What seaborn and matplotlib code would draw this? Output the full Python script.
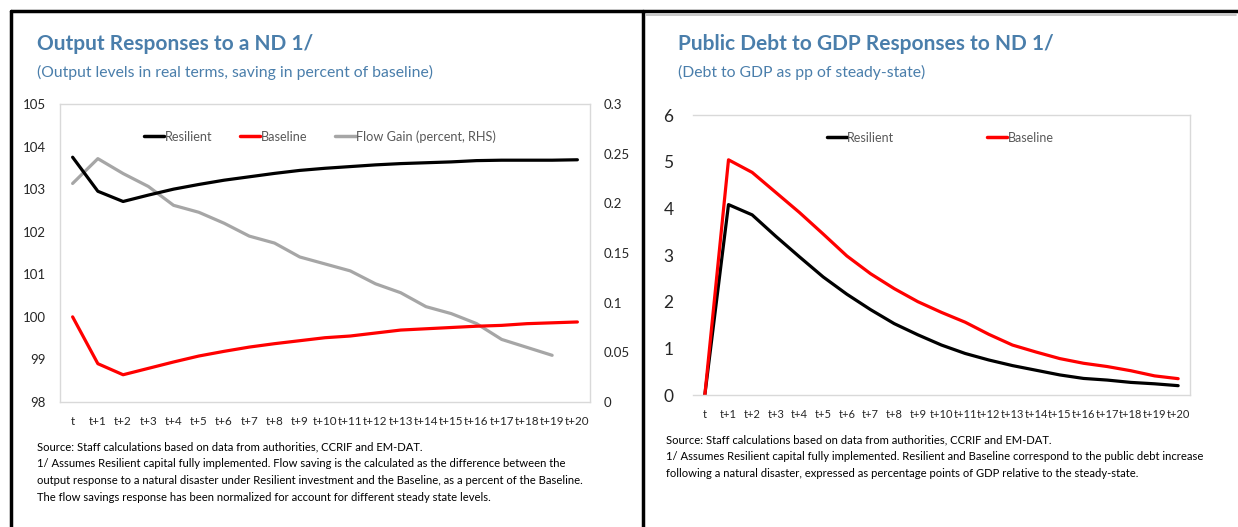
import matplotlib
matplotlib.use('Agg')
import matplotlib.pyplot as plt
import seaborn as sns
import pandas as pd
from matplotlib.lines import Line2D

# ── Data ──────────────────────────────────────────────────────────────────────
periods = ['t'] + [f't+{i}' for i in range(1, 21)]

out_resilient = [103.75, 102.95, 102.71, 102.86, 103.00, 103.11, 103.21, 103.29, 103.37, 103.44,
                 103.49, 103.53, 103.57, 103.60, 103.62, 103.64, 103.67, 103.68, 103.68, 103.68, 103.69]
out_baseline = [100.00, 98.90, 98.64, 98.79, 98.94, 99.08, 99.19, 99.29, 99.37, 99.44,
                99.51, 99.55, 99.62, 99.69, 99.72, 99.75, 99.78, 99.80, 99.84, 99.86, 99.88]
flow_gain = [0.220, 0.245, 0.230, 0.217, 0.198, 0.191, 0.180, 0.167, 0.160, 0.146,
             0.139, 0.132, 0.119, 0.110, 0.096, 0.089, 0.079, 0.063, 0.055, 0.047]  # no t+20

debt_resilient = [0.0, 4.08, 3.86, 3.40, 2.96, 2.53, 2.16, 1.83, 1.53, 1.29,
                  1.07, 0.89, 0.75, 0.63, 0.53, 0.43, 0.355, 0.32, 0.27, 0.24, 0.20]
debt_baseline = [0.0, 5.04, 4.77, 4.34, 3.91, 3.45, 2.98, 2.60, 2.28, 2.00,
                 1.77, 1.56, 1.30, 1.07, 0.92, 0.78, 0.68, 0.61, 0.52, 0.41, 0.35]

title_left = 'Output Responses to a ND 1/'
sub_left = '(Output levels in real terms, saving in percent of baseline)'
note_left = ('Source: Staff calculations based on data from authorities, CCRIF and EM-DAT.\n'
             '1/ Assumes Resilient capital fully implemented. Flow saving is the calculated as the difference between the\n'
             'output response to a natural disaster under Resilient investment and the Baseline, as a percent of the Baseline.\n'
             'The flow savings response has been normalized for account for different steady state levels.')
title_right = 'Public Debt to GDP Responses to ND 1/'
sub_right = '(Debt to GDP as pp of steady-state)'
note_right = ('Source: Staff calculations based on data from authorities, CCRIF and EM-DAT.\n'
              '1/ Assumes Resilient capital fully implemented. Resilient and Baseline correspond to the public debt increase\n'
              'following a natural disaster, expressed as percentage points of GDP relative to the steady-state.')

# ── Style ─────────────────────────────────────────────────────────────────────
sns.set_style('white')
plt.rcParams['font.family'] = ['Lato', 'DejaVu Sans']

BLUE = '#4a7eab'
GRID = '#d9d9d9'
colors = {'Resilient': '#000000', 'Baseline': '#ff0000', 'Flow Gain (percent, RHS)': '#a6a6a6'}

x = list(range(len(periods)))
df_out = pd.DataFrame({'x': x * 2,
                       'value': out_resilient + out_baseline,
                       'series': ['Resilient'] * len(x) + ['Baseline'] * len(x)})
df_flow = pd.DataFrame({'x': x[:len(flow_gain)], 'value': flow_gain})
df_debt = pd.DataFrame({'x': x * 2,
                        'value': debt_resilient + debt_baseline,
                        'series': ['Resilient'] * len(x) + ['Baseline'] * len(x)})

fig = plt.figure(figsize=(12.38, 5.27), dpi=100)
W, H = 1238, 527


def style_axes(ax):
    for s in ax.spines.values():
        s.set_color(GRID)
        s.set_linewidth(1.0)
    ax.set_xlim(-0.5, len(periods) - 0.5)
    ax.set_xticks(x)
    ax.set_xticklabels(periods)
    ax.tick_params(length=0, colors='#262626')
    ax.set_xlabel('')
    ax.set_ylabel('')


# ── Left panel ────────────────────────────────────────────────────────────────
ax1 = fig.add_axes([60 / W, 1 - 402 / H, 530 / W, 298 / H])
sns.lineplot(data=df_out, x='x', y='value', hue='series', palette=colors, lw=2.3,
             ax=ax1, legend=False)
ax1.set_ylim(98, 105)
ax1.set_yticks(range(98, 106))
style_axes(ax1)
ax1.tick_params(axis='y', labelsize=9.5, pad=10)
ax1.tick_params(axis='x', labelsize=8.4, pad=10)

ax1b = ax1.twinx()
sns.lineplot(data=df_flow, x='x', y='value', color=colors['Flow Gain (percent, RHS)'], lw=2.3, ax=ax1b)
ax1b.set_ylim(0, 0.3)
ax1b.set_yticks([0, 0.05, 0.1, 0.15, 0.2, 0.25, 0.3])
ax1b.set_yticklabels(['0', '0.05', '0.1', '0.15', '0.2', '0.25', '0.3'])
for s in ax1b.spines.values():
    s.set_visible(False)
ax1b.tick_params(length=0, labelsize=9.5, pad=10, colors='#262626')
ax1b.set_ylabel('')
ax1.set_zorder(ax1b.get_zorder() + 1)
ax1.patch.set_visible(False)

h1 = [Line2D([], [], color=colors[k], lw=2.5) for k in colors]
ax1.legend(h1, list(colors), ncol=3, frameon=False, loc='upper center', bbox_to_anchor=(0.49, 0.95),
           handlelength=1.6, handletextpad=0.0, columnspacing=2.2, fontsize=9.2, labelcolor='#595959')

# ── Right panel ───────────────────────────────────────────────────────────────
ax2 = fig.add_axes([693 / W, 1 - 395 / H, 497 / W, 280 / H])
sns.lineplot(data=df_debt, x='x', y='value', hue='series', palette=colors, lw=2.3,
             ax=ax2, legend=False)
ax2.set_ylim(0, 6)
ax2.set_yticks(range(0, 7))
style_axes(ax2)
ax2.spines['left'].set_visible(False)
ax2.tick_params(axis='y', labelsize=12.5, pad=14)
ax2.tick_params(axis='x', labelsize=8.0, pad=10)

h2 = [Line2D([], [], color=colors[k], lw=2.5) for k in ['Resilient', 'Baseline']]
ax2.legend(h2, ['Resilient', 'Baseline'], ncol=2, frameon=False, loc='upper center',
           bbox_to_anchor=(0.497, 0.98), handlelength=1.6, handletextpad=0.0, columnspacing=7.5,
           fontsize=9, labelcolor='#595959')

# ── Titles & notes ────────────────────────────────────────────────────────────
fig.text(37 / W, 1 - 44 / H, title_left, fontsize=15, fontweight='bold', color=BLUE, va='center')
fig.text(37 / W, 1 - 72 / H, sub_left, fontsize=11.3, color=BLUE, va='center')
fig.text(37 / W, 1 - 441 / H, note_left, fontsize=8.1, color='#000000', va='top', linespacing=1.68)

fig.text(678 / W, 1 - 44 / H, title_right, fontsize=15, fontweight='bold', color=BLUE, va='center')
fig.text(678 / W, 1 - 72 / H, sub_right, fontsize=11.3, color=BLUE, va='center')
fig.text(666 / W, 1 - 434 / H, note_right, fontsize=8.1, color='#000000', va='top', linespacing=1.68)

# ── Panel borders ─────────────────────────────────────────────────────────────
fig.add_artist(Line2D([11 / W, 1], [1 - 11 / H] * 2, color='black', lw=2.5, transform=fig.transFigure))
fig.add_artist(Line2D([11 / W] * 2, [0, 1 - 11 / H], color='black', lw=2.5, transform=fig.transFigure))
fig.add_artist(Line2D([643 / W] * 2, [0, 1 - 11 / H], color='black', lw=2.5, transform=fig.transFigure))
fig.add_artist(Line2D([646 / W, 1236 / W], [1 - 15 / H] * 2, color='#bfbfbf', lw=1.2, transform=fig.transFigure))

fig.savefig('out.png', dpi=100)
